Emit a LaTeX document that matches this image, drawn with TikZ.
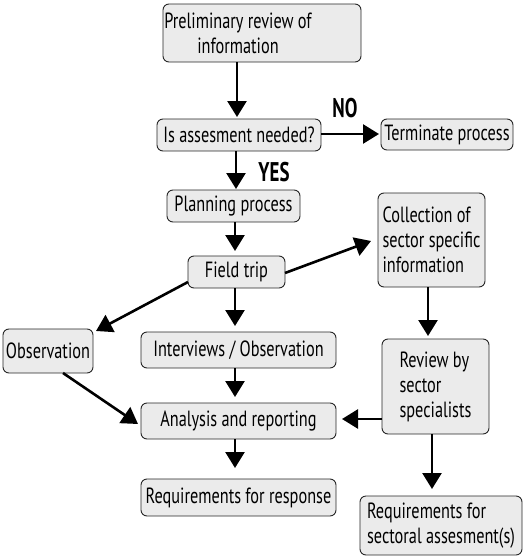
\documentclass[tikz,border=0pt]{standalone}
\usepackage{fontspec}
\setmainfont[FakeStretch=0.74]{PT Sans}
\newfontfamily\boldlab[FakeStretch=0.7]{PT Sans Bold}
\usetikzlibrary{arrows.meta}
\begin{document}
\begin{tikzpicture}[x=1pt,y=1pt,
  box/.style={draw=black!85,fill=black!8,rounded corners=6pt,line width=0.9pt,inner sep=0pt,font=\fontsize{22}{25}\selectfont},
  txt/.style={inner sep=0pt,font=\fontsize{22}{25}\selectfont},
  arr/.style={line width=2.6pt,-{Triangle[length=16pt,width=19pt]}},
  lab/.style={inner sep=0pt,font=\fontsize{27}{28}\boldlab}]
\useasboundingbox (0,0) rectangle (523,-557);
% nodes
\node[box,minimum width=198pt,minimum height=58pt] (prelim) at (262,-33) {};
\node[txt,align=center] (prelimtxt) at (238,-33) {Preliminary review of\\information};
\node[box,minimum width=164pt,minimum height=32pt] (need) at (239,-135) {Is assesment needed?};
\node[box,minimum width=132pt,minimum height=31pt] (term) at (447,-134.5) {Terminate process};
\node[box,minimum width=133pt,minimum height=32pt] (plan) at (233.5,-206) {Planning process};
\node[box,minimum width=97pt,minimum height=32pt] (field) at (236.5,-272) {Field trip};
\node[box,minimum width=107pt,minimum height=94pt,align=left] (coll) at (431.5,-240) {Collection of\\sector specific\\information};
\node[box,minimum width=90pt,minimum height=44pt] (obs) at (48,-351) {Observation};
\node[box,minimum width=195pt,minimum height=36pt] (inter) at (238.5,-350) {Interviews / Observation};
\node[box,minimum width=107pt,minimum height=95pt,align=left] (review) at (435.5,-386.5) {Review by\\sector\\specialists};
\node[box,minimum width=195pt,minimum height=36pt] (anal) at (238.5,-421) {Analysis and reporting};
\node[box,minimum width=195pt,minimum height=37pt] (resp) at (238.5,-497.5) {Requirements for response};
\node[box,minimum width=162pt,minimum height=59pt,align=left] (sect) at (441,-525.5) {Requirements for\\sectoral assesment(s)};
\node[lab] (no) at (345,-108) {NO};
\node[lab] (yes) at (274,-172) {YES};
% arrow end points
\coordinate (p1s) at (237,-62);
\coordinate (p1e) at (237,-117);
\coordinate (nos) at (321,-134);
\coordinate (noe) at (379,-134);
\coordinate (yss) at (236,-151);
\coordinate (yse) at (236,-189);
\coordinate (pls) at (235,-222);
\coordinate (ple) at (235,-251);
\coordinate (fcs) at (285,-273);
\coordinate (fce) at (371,-241);
\coordinate (fos) at (188,-282);
\coordinate (foe) at (96,-331);
\coordinate (fis) at (235,-288);
\coordinate (fie) at (235,-326);
\coordinate (crs) at (428,-287);
\coordinate (cre) at (428,-336);
\coordinate (ias) at (235,-368);
\coordinate (iae) at (235,-397);
\coordinate (oas) at (63,-373);
\coordinate (oae) at (138,-424);
\coordinate (ras) at (382,-419);
\coordinate (rae) at (342,-419);
\coordinate (ars) at (235,-439);
\coordinate (are) at (235,-468);
\coordinate (rss) at (432,-434);
\coordinate (rse) at (432,-489);
\draw[arr] (p1s) -- (p1e);
\draw[arr] (nos) -- (noe);
\draw[arr] (yss) -- (yse);
\draw[arr] (pls) -- (ple);
\draw[arr] (fcs) -- (fce);
\draw[arr] (fos) -- (foe);
\draw[arr] (fis) -- (fie);
\draw[arr] (crs) -- (cre);
\draw[arr] (ias) -- (iae);
\draw[arr] (oas) -- (oae);
\draw[arr] (ras) -- (rae);
\draw[arr] (ars) -- (are);
\draw[arr] (rss) -- (rse);
\end{tikzpicture}
\end{document}
